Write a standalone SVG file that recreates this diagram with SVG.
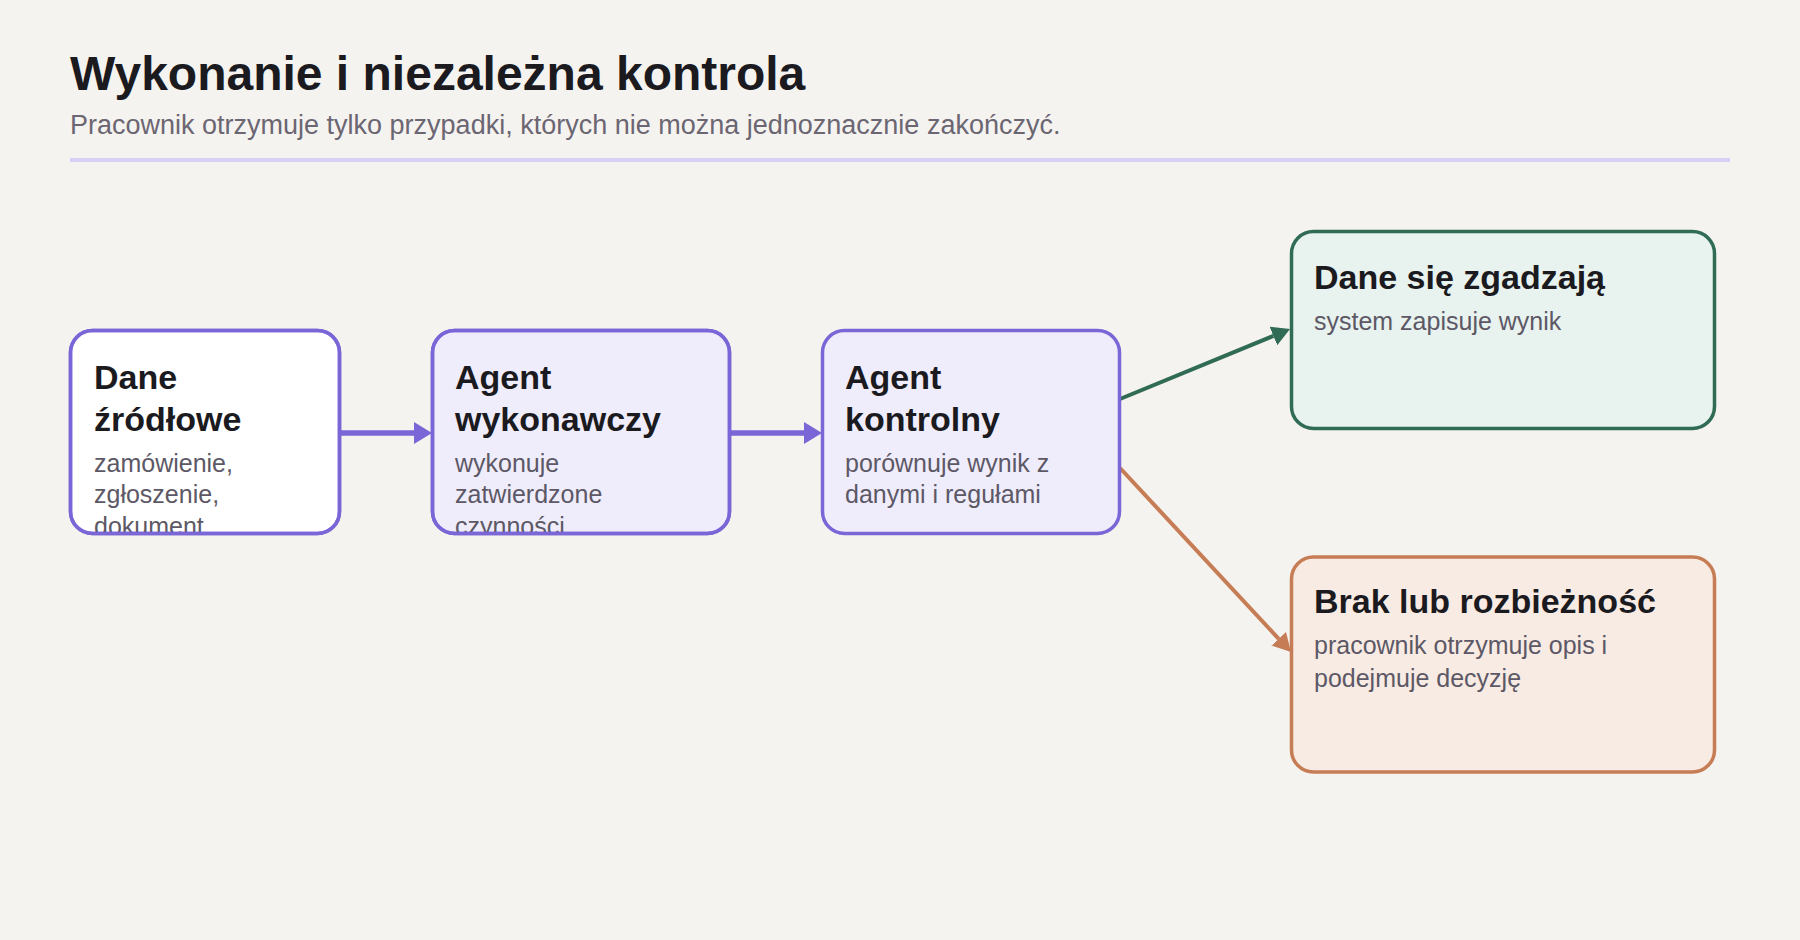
<svg xmlns="http://www.w3.org/2000/svg" width="1800" height="940" viewBox="0 0 1800 940">
  <style>
    .bg { fill: #f5f3ef; }
    .h1 { font-family: "Liberation Sans", Arial, sans-serif; font-weight: 700; font-size: 48px; fill: #1b1a1f; }
    .sub { font-family: "Liberation Sans", Arial, sans-serif; font-size: 27px; fill: #6b6672; }
    .node { stroke-width: 3.5; }
    .purple-white { fill: #ffffff; stroke: #7a66d6; }
    .purple { fill: #efedfb; stroke: #7a66d6; }
    .purple-border { fill: none; stroke: #7a66d6; stroke-width: 3.5; }
    .green { fill: #e8f2ee; stroke: #2f6b55; }
    .orange { fill: #f8ebe3; stroke: #c67c55; }
    .title { font-family: "Liberation Sans", Arial, sans-serif; font-weight: 700; font-size: 34px; fill: #1b1a1f; }
    .desc { font-family: "Liberation Sans", Arial, sans-serif; font-size: 25px; fill: #5d5866; }
    .edge { fill: none; }
    .e-purple { stroke: #7a66d6; stroke-width: 5.5; }
    .e-green { stroke: #2f6b55; stroke-width: 4; }
    .e-orange { stroke: #c67c55; stroke-width: 4; }
  </style>
  <defs>
    <marker id="arrow-purple" markerUnits="userSpaceOnUse" viewBox="0 -12 20 24" markerWidth="20" markerHeight="24" refX="0" refY="0" orient="auto">
      <path d="M0,-11 L18,0 L0,11 Z" fill="#7a66d6"/>
    </marker>
    <marker id="arrow-green" markerUnits="userSpaceOnUse" viewBox="0 -12 20 24" markerWidth="20" markerHeight="24" refX="0" refY="0" orient="auto">
      <path d="M0,-10 L18,0 L0,10 Z" fill="#2f6b55"/>
    </marker>
    <marker id="arrow-orange" markerUnits="userSpaceOnUse" viewBox="0 -12 20 24" markerWidth="20" markerHeight="24" refX="0" refY="0" orient="auto">
      <path d="M0,-10 L18,0 L0,10 Z" fill="#c67c55"/>
    </marker>
    <clipPath id="clip-n1"><rect x="69" y="329" width="272" height="206" rx="23"/></clipPath>
    <clipPath id="clip-n2"><rect x="431" y="329" width="300" height="206" rx="23"/></clipPath>
    <clipPath id="clip-n3"><rect x="821" y="329" width="300" height="206" rx="23"/></clipPath>
  </defs>

  <rect class="bg" x="0" y="0" width="1800" height="940"/>

  <g id="header">
    <text class="h1" x="70" y="90">Wykonanie i niezależna kontrola</text>
    <text class="sub" x="70" y="134">Pracownik otrzymuje tylko przypadki, których nie można jednoznacznie zakończyć.</text>
    <rect x="70" y="158" width="1660" height="4" fill="#d9d1f5"/>
  </g>

  <g id="connectors">
    <line class="edge e-purple" x1="340" y1="433" x2="414" y2="433" marker-end="url(#arrow-purple)"/>
    <line class="edge e-purple" x1="730" y1="433" x2="804" y2="433" marker-end="url(#arrow-purple)"/>
    <line class="edge e-green" x1="1120" y1="399" x2="1273.4" y2="335.9" marker-end="url(#arrow-green)"/>
    <line class="edge e-orange" x1="1120" y1="468" x2="1278.7" y2="638.8" marker-end="url(#arrow-orange)"/>
  </g>

  <g id="node-source">
    <rect class="node purple-white" x="70.5" y="330.5" width="269" height="203" rx="22"/>
    <g clip-path="url(#clip-n1)">
      <text class="title" x="94" y="389">Dane</text>
      <text class="title" x="94" y="431">źródłowe</text>
      <text class="desc" x="94" y="471.5">zamówienie,</text>
      <text class="desc" x="94" y="503">zgłoszenie,</text>
      <text class="desc" x="94" y="534.5">dokument</text>
    </g>
    <rect class="purple-border" x="70.5" y="330.5" width="269" height="203" rx="22"/>
  </g>

  <g id="node-executor">
    <rect class="node purple" x="432.5" y="330.5" width="297" height="203" rx="22"/>
    <g clip-path="url(#clip-n2)">
      <text class="title" x="455" y="389">Agent</text>
      <text class="title" x="455" y="431">wykonawczy</text>
      <text class="desc" x="455" y="471.5">wykonuje</text>
      <text class="desc" x="455" y="503">zatwierdzone</text>
      <text class="desc" x="455" y="534.5">czynności</text>
    </g>
    <rect class="purple-border" x="432.5" y="330.5" width="297" height="203" rx="22"/>
  </g>

  <g id="node-controller">
    <rect class="node purple" x="822.5" y="330.5" width="297" height="203" rx="22"/>
    <g clip-path="url(#clip-n3)">
      <text class="title" x="845" y="389">Agent</text>
      <text class="title" x="845" y="431">kontrolny</text>
      <text class="desc" x="845" y="471.5">porównuje wynik z</text>
      <text class="desc" x="845" y="503">danymi i regułami</text>
    </g>
  </g>

  <g id="node-ok">
    <rect class="node green" x="1291.5" y="231.5" width="423" height="197" rx="22"/>
    <text class="title" x="1314" y="289">Dane się zgadzają</text>
    <text class="desc" x="1314" y="330">system zapisuje wynik</text>
  </g>

  <g id="node-mismatch">
    <rect class="node orange" x="1291.5" y="557" width="423" height="215" rx="22"/>
    <text class="title" x="1314" y="613">Brak lub rozbieżność</text>
    <text class="desc" x="1314" y="654">pracownik otrzymuje opis i</text>
    <text class="desc" x="1314" y="686.5">podejmuje decyzję</text>
  </g>
</svg>
